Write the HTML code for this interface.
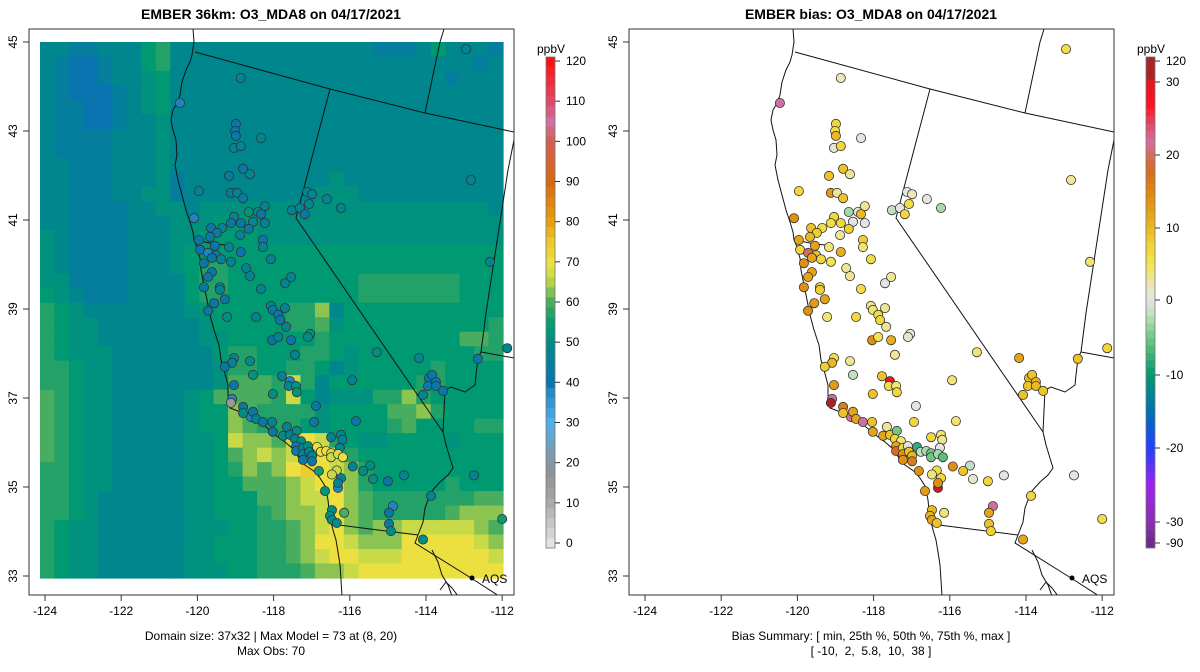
<!DOCTYPE html>
<html><head><meta charset="utf-8">
<style>
html,body{margin:0;padding:0;background:#fff;}
svg{display:block;font-family:"Liberation Sans",Arial,sans-serif;}
</style></head>
<body>
<svg id="chart" xmlns="http://www.w3.org/2000/svg" width="1200" height="672" viewBox="0 0 1200 672">
<rect x="0" y="0" width="1200" height="672" fill="#fff"/>
<text x="271" y="19" text-anchor="middle" font-size="14" font-weight="bold">EMBER 36km: O3_MDA8 on 04/17/2021</text>
<text x="871" y="19" text-anchor="middle" font-size="14" font-weight="bold">EMBER bias: O3_MDA8 on 04/17/2021</text>
<text x="271" y="640" text-anchor="middle" font-size="12">Domain size: 37x32 | Max Model = 73 at (8, 20)</text>
<text x="271" y="655" text-anchor="middle" font-size="12">Max Obs: 70</text>
<text x="871" y="640" text-anchor="middle" font-size="12">Bias Summary: [ min, 25th %, 50th %, 75th %, max ]</text>
<text x="871" y="655" text-anchor="middle" font-size="12" xml:space="preserve">[ -10,  2,  5.8,  10,  38 ]</text>
<g id="leftPanel"></g>
<g id="rightPanel"></g>
<g id="cbars"></g>
</svg>
<script>
// ---------- data ----------
const gridCodes = {a:40,b:44,c:48,d:51,e:54,f:57,g:60,h:63,i:66,j:70,k:74};
const gridRows = [
"ccbbccce"+"fccccccc"+"cccccccb"+"bbcecccb",
"cbaabcce"+"fccccccc"+"cccccccc"+"ccccccbc",
"cbaabccd"+"eccccccc"+"cccccccc"+"ccccbccc",
"cbaaabcd"+"eccccccc"+"cccccccc"+"cccccccc",
"cbbaabcd"+"eccccccc"+"cccccccc"+"cccccccc",
"cbbaabcc"+"dccccccc"+"cccccccc"+"cccccccc",
"cbbbbccc"+"dccccccc"+"cccccccc"+"cccccccc",
"cbbbbccc"+"dccccccc"+"cccccccc"+"cccccccc",
"ccbbbccc"+"dccccccc"+"cccccccc"+"cccccccc",
"ccbbbccc"+"dbcccccc"+"ccccdccc"+"cccccccc",
"ccbbbccd"+"dbcccccc"+"cccdddcc"+"cccccccc",
"ccbbbbcc"+"ddcddddd"+"dddddddd"+"dddddddc",
"ccbbbbcc"+"cdddeeed"+"dddddddd"+"dddddddd",
"dcbbbbcc"+"cddeeeed"+"dddddddd"+"dddddddd",
"dcbbbbcc"+"cdeeeeee"+"eeeeeeee"+"eeeeeeee",
"dcbbbbcc"+"cdeffeee"+"eeeeeeee"+"eeeeeeee",
"ddbbbbcc"+"cceffeee"+"eeeeeeff"+"fffffeee",
"edcbbbcc"+"cceffeee"+"eeeeeeff"+"fffffeee",
"fedccccc"+"ccdeeeee"+"effhceee"+"eeeeeeee",
"feddcccc"+"cccdeeee"+"effgdeee"+"eeeeeeef",
"feddcccc"+"cccddeee"+"eeefeeee"+"eeeeeggf",
"fedddccc"+"cccceffe"+"eeffedee"+"eeeeeeff",
"ffeddccc"+"ccccdffe"+"effecdee"+"eeefeeee",
"ffeddccc"+"ccccdggg"+"fifceeee"+"eeffeeee",
"gfeddccc"+"ccdegggg"+"fiecdddf"+"fhfeeeee",
"gfeddccc"+"ccdeehgf"+"fffdeeee"+"gghfeeee",
"gfeddccc"+"ccdeehgf"+"ffedeeee"+"fgeeeeff",
"gfeddccc"+"ccddeihh"+"gijifedd"+"eeeedeee",
"gfeddccc"+"ccddeghi"+"hijjifee"+"eeeeeeee",
"ffeddccc"+"ccddefhg"+"hjkjihfe"+"eeeeeeee",
"ffeddccc"+"ccddeegg"+"ghijjhfe"+"eeeefeee",
"ffedcccc"+"ccddeeeg"+"ghiijhgf"+"ffffffgg",
"ffedcccc"+"ccddeeef"+"ghhijhgf"+"ffffghhh",
"feddcccc"+"ccdddeef"+"fghijhgh"+"hiiiiihg",
"feddcccc"+"ccddeeef"+"fghjjihh"+"hjjjjjih",
"feddcccc"+"ccddeeef"+"fghijjii"+"ijjjjjji",
"feddcccc"+"ccdddeef"+"ffghhijj"+"jjjjjjjj"
];
const stLon = [-118.86,-112.95,-120.46,-118.99,-119.01,-118.99,-118.33,-119.04,-118.86,-118.80,-118.62,-119.17,-119.96,-119.12,-118.96,-118.80,-117.12,-116.99,-117.07,-116.60,-116.23,-117.52,-117.31,-117.18,-118.23,-120.09,-119.04,-118.65,-118.41,-118.33,-118.54,-118.23,-118.86,-119.12,-119.35,-119.64,-119.49,-118.88,-118.65,-118.28,-118.28,-119.96,-119.67,-119.54,-119.93,-119.72,-119.51,-119.62,-119.38,-119.17,-118.86,-119.12,-119.83,-118.07,-119.62,-119.72,-118.72,-118.62,-119.41,-119.41,-119.83,-118.33,-117.70,-117.54,-119.28,-119.56,-119.72,-118.07,-117.70,-112.82,-112.32,
-119.22,-118.46,-118.02,-117.88,-117.83,-117.67,-118.04,-117.88,-117.54,-117.04,-117.10,-117.44,-115.29,-114.18,-112.64,-111.87,-119.04,-119.09,-119.28,-118.62,-118.54,-117.78,-117.57,-117.60,-117.41,-117.39,-115.94,-113.92,-113.84,-113.74,-113.95,-113.74,-113.55,-114.08,-119.04,-119.09,-119.12,-118.02,-116.89,-118.80,-118.80,-118.59,-118.54,-118.46,-118.28,-118.04,-116.94,-115.84,-118.02,-117.75,-117.65,-117.57,-117.39,-117.44,-117.28,-117.41,-117.41,-117.23,-117.10,-117.23,-117.23,-117.07,-116.99,-116.99,
-116.49,-116.23,-116.20,-116.26,-115.92,-115.47,-115.65,-115.39,-115.00,-114.58,-112.74,-116.81,-116.34,-116.47,-116.23,-116.31,-116.65,-116.31,-113.87,-114.87,-114.97,-114.97,-114.92,-116.47,-116.52,-116.47,-116.34,-116.15,-114.08,-112.00,
-116.86,-116.76,-116.62,-116.49,-116.49,-116.31,-116.18];
const stLat = [44.19,44.84,43.63,43.16,43.00,42.89,42.84,42.62,42.66,42.15,42.03,41.99,41.65,41.61,41.61,41.49,41.63,41.58,41.36,41.47,41.27,41.22,41.27,41.13,41.31,41.04,41.07,41.18,41.18,41.13,40.96,40.93,40.93,40.93,40.82,40.82,40.71,40.66,40.80,40.55,40.39,40.55,40.62,40.42,40.33,40.26,40.21,40.15,40.12,40.39,40.28,40.06,40.03,40.12,39.83,39.72,39.92,39.74,39.49,39.43,39.49,39.45,39.58,39.72,39.22,39.13,38.96,39.07,39.02,41.90,40.06,
38.82,38.82,38.98,38.87,38.75,38.60,38.30,38.37,38.30,38.44,38.37,37.97,38.03,37.90,37.88,38.12,37.90,37.79,37.70,37.83,37.52,37.49,37.38,37.27,37.27,37.13,37.40,37.45,37.52,37.36,37.27,37.27,37.16,37.07,37.29,36.98,36.89,37.09,36.82,36.80,36.66,36.57,36.69,36.53,36.46,36.46,36.46,36.48,36.24,36.15,36.35,36.17,36.26,36.08,36.03,35.92,35.81,35.88,35.92,35.74,35.61,35.79,35.70,35.58,
36.12,36.17,36.06,35.88,35.46,35.48,35.36,35.18,35.13,35.26,35.26,35.36,35.37,35.28,35.20,34.98,34.91,35.09,34.80,34.57,34.42,34.17,34.01,34.48,34.35,34.26,34.19,34.42,33.82,34.28,
35.90,35.79,35.81,35.76,35.67,35.74,35.67];
const stObs = [47,47,38,42,42,42,47,47,46,42,47,43,46,42,47,43,47,47,47,47,47,47,47,42,47,38,46,52,50,42,47,47,42,42,47,42,44,46,43,42,47,42,42,42,40,38,42,42,47,47,40,47,42,47,42,42,47,47,47,47,42,47,47,47,42,42,42,47,47,47,47,
50,47,42,42,42,47,42,47,42,52,50,47,50,47,42,47,47,47,42,50,52,47,38,47,52,52,47,42,42,42,42,42,42,47,42,38,15,50,42,42,50,38,42,47,42,47,42,42,42,50,47,47,50,47,50,42,42,47,50,47,42,47,47,42,
47,47,47,47,47,50,50,50,42,47,47,55,66,66,47,38,52,47,47,38,42,42,50,50,50,50,50,60,50,55,
70,70,70,68,66,68,70];
const stBias = [2,6,22,7,6,10,0,1,7,9,3,9,7,13,3,9,0,2,6,0,-3,-2,0,7,3,14,7,-3,1,10,0,0,7,6,6,9,8,3,8,8,4,12,10,12,7,20,9,12,7,4,11,5,14,6,12,12,3,3,7,8,14,6,0,3,12,13,14,3,3,3,4,
4,7,4,6,7,3,14,5,11,1,1,3,4,12,9,7,6,10,8,3,-2,9,28,6,4,7,4,10,9,10,9,10,9,9,13,22,35,9,0,16,9,22,12,12,22,9,7,4,12,12,3,9,-5,7,4,12,18,7,0,14,14,9,10,16,
7,4,3,0,14,-2,9,1,7,0,0,14,6,4,7,32,13,14,7,22,12,9,8,10,10,12,9,4,12,6,
-8,-2,-3,-5,-5,-3,-6];
const obsTicks = [0,10,20,30,40,50,60,70,80,90,100,110,120];
const biasTicks = [-90,-30,-20,-10,0,10,20,30,120];
const lonTicks = [-124,-122,-120,-118,-116,-114,-112];
const latTicks = [33,35,37,39,41,43,45];

// ---------- helpers ----------
const NS = "http://www.w3.org/2000/svg";
function mk(tag, attrs, parent){const e=document.createElementNS(NS,tag);for(const k in attrs)e.setAttribute(k,attrs[k]);parent.appendChild(e);return e;}
function hex(h){return [parseInt(h.substr(1,2),16),parseInt(h.substr(3,2),16),parseInt(h.substr(5,2),16)];}
function interp(stops, v){
  if(v<=stops[0][0]) return stops[0][1];
  if(v>=stops[stops.length-1][0]) return stops[stops.length-1][1];
  for(let i=0;i<stops.length-1;i++){
    const a=stops[i],b=stops[i+1];
    if(v>=a[0]&&v<=b[0]){const t=(v-a[0])/(b[0]-a[0]);const c1=hex(a[1]),c2=hex(b[1]);
      return "rgb("+c1.map((c,j)=>Math.round(c+(c2[j]-c)*t)).join(",")+")";}
  }
}
const obsStops=[[0,"#e2e2e2"],[10,"#aaaaaa"],[17,"#929292"],[22,"#7e9bb0"],[30,"#4fb0e6"],[37,"#2a8ccc"],[40,"#0a74b0"],[44,"#057e9e"],[48,"#00878e"],[51,"#00917f"],[54,"#009a72"],[57,"#22a168"],[60,"#48ad5e"],[63,"#8cc452"],[66,"#c8da48"],[70,"#ebe040"],[75,"#eec828"],[80,"#e8a010"],[90,"#d86810"],[100,"#d26050"],[105,"#d070a0"],[110,"#e04868"],[120,"#ff1010"]];
const biasStops=[[-90,"#6a2c8a"],[-30,"#8a30b0"],[-25,"#a020f0"],[-20,"#2040ff"],[-15,"#0070b0"],[-10,"#009a70"],[-5,"#70c880"],[-2,"#c0e0c0"],[0,"#e4e4e4"],[2,"#ece6b8"],[5,"#f2e450"],[8,"#f0d030"],[10,"#eab820"],[14,"#e09010"],[18,"#d86a20"],[22,"#d070a0"],[27,"#ff1020"],[35,"#b02020"],[120,"#a02828"]];

const X0=45, PXDEG=38.1, Y0=42, PYDEG=44.5;
function xScale(lon){return X0+(lon+124)*PXDEG;}
function yScale(lat){return Y0+(45-lat)*PYDEG;}
const GX0=40, GY0=42, CW=(503-40)/32, CH=(578-42)/37;
function colX(c){return GX0+c*CW;}
function rowY(r){return GY0+r*CH;}

const basemap = [
 [[193,29],[194,42],[192,55],[190,62],[186,70],[182,82],[180,95],[177,103],[173,110],[171,120],[173,130],[176,140],[177,155],[175,165],[178,180],[182,195],[186,210],[190,222],[193,232],[194,240],[197,247],[198,252],[200,258],[201,270],[204,285],[207,300],[210,315],[214,330],[219,345],[221,360],[224,370],[228,385],[228,395],[230,408],[238,411],[245,414],[255,420],[262,424],[271,431],[278,437],[285,442],[292,448],[296,453],[300,460],[305,465],[315,472],[320,478],[325,486],[328,500],[329,510],[331,522],[333,530],[336,540],[338,552],[340,565],[341,580],[342,596]],
 [[195,240],[205,242],[215,244],[225,245],[232,248]],
 [[195,52],[330,89],[425,113],[514,132]],
 [[444,29],[440,42],[425,113]],
 [[330,89],[296,218],[443,432]],
 [[443,432],[446,445],[453,468],[448,475],[440,482],[431,492],[425,508],[423,522],[418,535]],
 [[331,524],[418,535]],
 [[418,535],[415,543],[471,578],[499,596]],
 [[481,352],[478,358],[476,375],[475,385],[465,392],[451,387],[445,390],[443,432]],
 [[481,352],[514,358]],
 [[481,352],[486,313],[508,170],[514,140]],
 [[432,550],[438,562],[442,575],[448,585],[452,596]],
 [[440,590],[446,582],[452,588],[458,596]]
];

function drawPanel(g, dx, isBias){
  const clipId = "clip"+(isBias?"R":"L");
  const defs = mk("defs",{},g);
  const cp = mk("clipPath",{id:clipId},defs);
  mk("rect",{x:29+dx,y:29,width:485,height:566},cp);
  const inner = mk("g",{"clip-path":"url(#"+clipId+")"},g);
  if(!isBias){
    const cells = mk("g",{},inner);
    
    
    gridRows.forEach((row,r)=>{
      for(let c=0;c<row.length;c++){
        const v=gridCodes[row[c]];
        const rc=mk("rect",{x:colX(c).toFixed(2),y:rowY(r).toFixed(2),width:(CW+0.6).toFixed(2),height:(CH+0.6).toFixed(2),fill:interp(obsStops,v)},cells);
        
        
      }
    });
  }
  const bm = mk("g",{transform:"translate("+dx+",0)",fill:"none",stroke:"#111","stroke-width":"1"},inner);
  
  
  basemap.forEach(line=>{
    const p=mk("polyline",{points:line.map(q=>q.join(",")).join(" ")},bm);
    
    
  });
  const sg = mk("g",{},inner);
  
  
  for(let i=0;i<stLon.length;i++){
    const col = isBias? interp(biasStops,stBias[i]) : interp(obsStops,stObs[i]);
    const c=mk("circle",{cx:(xScale(stLon[i])+dx).toFixed(1),cy:yScale(stLat[i]).toFixed(1),r:"4.6",fill:col,stroke:"#333","stroke-width":"0.8"},sg);
    
    
  }
  const aq=mk("circle",{cx:472+dx,cy:578,r:"2.5",fill:"#000"},g);
  
  
  const at=mk("text",{x:482+dx,y:583,"font-size":"12"},g);
  at.textContent="AQS";
  
  
  const box=mk("rect",{x:29+dx,y:29,width:485,height:566,fill:"none",stroke:"#333","stroke-width":"1"},g);
  
  
  lonTicks.forEach(t=>{
    const x=xScale(t)+dx;
    const tk=mk("line",{x1:x,y1:595,x2:x,y2:601,stroke:"#333"},g);
    
    
    const tl=mk("text",{x:x,y:615,"text-anchor":"middle","font-size":"12"},g);
    tl.textContent=String(t);
    
    
  });
  latTicks.forEach(t=>{
    const y=yScale(t);
    const tk=mk("line",{x1:23+dx,y1:y,x2:29+dx,y2:y,stroke:"#333"},g);
    
    
    const tl=mk("text",{x:0,y:0,"text-anchor":"middle","font-size":"12",transform:"translate("+(17+dx)+","+y+") rotate(-90)"},g);
    tl.textContent=String(t);
    
    
  });
}
drawPanel(document.getElementById("leftPanel"),0,false);
drawPanel(document.getElementById("rightPanel"),600,true);

const cb=document.getElementById("cbars");
const CBX=546, CBW=9, CBT=57, CBB=548;
function obsY(v){return 543-(v/120)*(543-61);}
const bl=mk("g",{},cb);


for(let v=-1.25;v<121.25;v+=2.5){
  const y1=Math.max(CBT,obsY(v+2.5)), y2=Math.min(CBB,obsY(v));
  const r=mk("rect",{x:CBX,y:y1.toFixed(2),width:CBW,height:(y2-y1+0.4).toFixed(2),fill:interp(obsStops,v+1.25)},bl);
  
  
}
mk("rect",{x:CBX,y:CBT,width:CBW,height:CBB-CBT,fill:"none",stroke:"#777","stroke-width":"0.8"},bl);
obsTicks.forEach(t=>{
  const y=obsY(t);
  mk("line",{x1:CBX+CBW,y1:y,x2:CBX+CBW+5,y2:y,stroke:"#333"},bl);
  const tl=mk("text",{x:CBX+CBW+11,y:y+4,"font-size":"12"},bl);
  tl.textContent=String(t);
  
  
});
const u1=mk("text",{x:CBX+5,y:53,"text-anchor":"middle","font-size":"12"},bl);
u1.textContent="ppbV";



const biasPos=[[-90,543],[-30,522],[-20,448],[-10,375],[0,300],[10,228],[20,155],[30,82],[120,61]];
function biasY(v){
  for(let i=0;i<biasPos.length-1;i++){const a=biasPos[i],b=biasPos[i+1];
    if(v>=a[0]&&v<=b[0]) return a[1]+(b[1]-a[1])*(v-a[0])/(b[0]-a[0]);}
  return v<-90?543:61;
}
const br=mk("g",{transform:"translate(600,0)"},cb);


for(let y=CBT;y<CBB;y+=7.4){
  let v=0; const yc=y+3.7;
  for(let i=0;i<biasPos.length-1;i++){const a=biasPos[i],b=biasPos[i+1];
    if(yc<=a[1]&&yc>=b[1]){v=a[0]+(b[0]-a[0])*(a[1]-yc)/(a[1]-b[1]);}}
  if(yc>543) v=-90; if(yc<61) v=120;
  const r=mk("rect",{x:CBX,y:y.toFixed(2),width:CBW,height:Math.min(7.8,CBB-y).toFixed(2),fill:interp(biasStops,v)},br);
  
  
}
mk("rect",{x:CBX,y:CBT,width:CBW,height:CBB-CBT,fill:"none",stroke:"#777","stroke-width":"0.8"},br);
biasTicks.forEach(t=>{
  const y=biasY(t);
  mk("line",{x1:CBX+CBW,y1:y,x2:CBX+CBW+5,y2:y,stroke:"#333"},br);
  const tl=mk("text",{x:CBX+CBW+11,y:y+4,"font-size":"12"},br);
  tl.textContent=String(t);
  
  
});
const u2=mk("text",{x:CBX+5,y:53,"text-anchor":"middle","font-size":"12"},br);
u2.textContent="ppbV";


</script>
</body></html>
